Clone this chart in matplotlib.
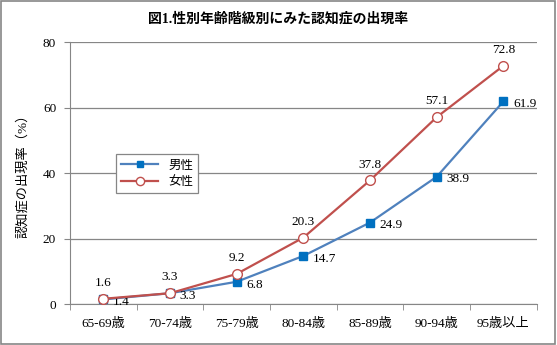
import matplotlib.pyplot as plt
from matplotlib.patches import Rectangle

plt.rcParams['font.family'] = ['Liberation Serif', 'Noto Sans CJK JP']

age_groups = ['65-69歳', '70-74歳', '75-79歳', '80-84歳', '85-89歳', '90-94歳', '95歳以上']
male = [1.4, 3.3, 6.8, 14.7, 24.9, 38.9, 61.9]
female = [1.6, 3.3, 9.2, 20.3, 37.8, 57.1, 72.8]

blue = '#4F81BD'
red = '#C0504D'
grid_c = '#868686'

fig = plt.figure(figsize=(5.57, 3.45), dpi=100)
ax = fig.add_axes([0.1257, 0.1188, 0.838, 0.759])

x = list(range(len(age_groups)))
ax.plot(x, male, color=blue, lw=1.6, marker='s', ms=5.5, mfc='#0070C0', mec='#0070C0', label='男性', zorder=3)
ax.plot(x, female, color=red, lw=1.6, marker='o', ms=7, mfc='white', mec=red, mew=1.0, label='女性', zorder=4)

for xi, v in zip(x, male):
    ax.annotate(f'{v}', (xi, v), xytext=(7, -2), textcoords='offset points',
                ha='left', va='center', fontsize=9.5)
for xi, v in zip(x, female):
    ax.annotate(f'{v}', (xi, v), xytext=(0, 7), textcoords='offset points',
                ha='center', va='bottom', fontsize=9.5)

ax.set_xlim(-0.5, len(age_groups) - 0.5)
ax.set_ylim(0, 80)
ax.set_yticks([0, 20, 40, 60, 80])
ax.set_xticks(x)
ax.set_xticklabels(age_groups, fontsize=9.5)
ax.set_xticks([i - 0.5 for i in range(len(age_groups) + 1)], minor=True)
ax.tick_params(axis='x', which='major', length=0, pad=10)
ax.tick_params(axis='x', which='minor', length=4, color=grid_c)
ax.tick_params(axis='y', length=4, color=grid_c, labelsize=9.5, pad=6)
ax.grid(axis='y', color=grid_c, lw=0.9)
ax.set_axisbelow(True)
for side in ['top', 'right']:
    ax.spines[side].set_visible(False)
for side in ['left', 'bottom']:
    ax.spines[side].set_color(grid_c)

ax.set_ylabel('認知症の出現率（%）', fontsize=9.5, labelpad=10)
fig.suptitle('図1.性別年齢階級別にみた認知症の出現率', y=0.965, fontsize=10, fontweight='bold')

leg = ax.legend(loc='upper left', bbox_to_anchor=(0.085, 0.595), fontsize=9,
                frameon=True, fancybox=False, edgecolor=grid_c, framealpha=1,
                handlelength=3, borderpad=0.4, labelspacing=0.4, markerscale=0.85)
leg.get_frame().set_linewidth(0.9)

fig.patches.append(Rectangle((0.002, 0.003), 0.995, 0.993, transform=fig.transFigure,
                             fill=False, edgecolor=grid_c, lw=1.2))

fig.savefig('out.png', dpi=100)
